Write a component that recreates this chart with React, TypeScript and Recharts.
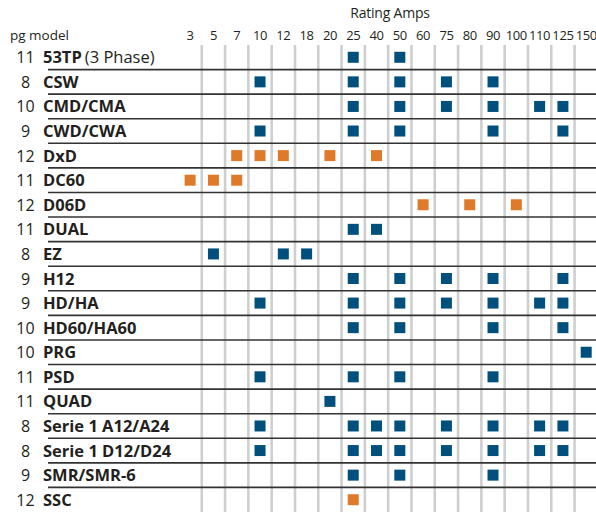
import React from 'react';
import { ScatterChart, Scatter, XAxis, YAxis, ReferenceLine } from 'recharts';

const ampColumns = ['3', '5', '7', '10', '12', '18', '20', '25', '40', '50', '60', '75', '80', '90', '100', '110', '125', '150'];
const models = ['53TP', 'CSW', 'CMD/CMA', 'CWD/CWA', 'DxD', 'DC60', 'D06D', 'DUAL', 'EZ', 'H12', 'HD/HA', 'HD60/HA60', 'PRG', 'PSD', 'QUAD', 'Serie 1 A12/A24', 'Serie 1 D12/D24', 'SMR/SMR-6', 'SSC'];
const modelNotes = ['(3 Phase)', '', '', '', '', '', '', '', '', '', '', '', '', '', '', '', '', '', ''];
const pages = [11, 8, 10, 9, 12, 11, 12, 11, 8, 9, 9, 10, 10, 11, 11, 8, 8, 9, 12];
const ratings: string[][] = [
  ['25', '50'],
  ['10', '25', '50', '75', '90'],
  ['25', '50', '75', '90', '110', '125'],
  ['10', '25', '50', '90', '125'],
  ['7', '10', '12', '20', '40'],
  ['3', '5', '7'],
  ['60', '80', '100'],
  ['25', '40'],
  ['5', '12', '18'],
  ['25', '50', '75', '90', '125'],
  ['10', '25', '50', '75', '90', '110', '125'],
  ['25', '50', '90', '125'],
  ['150'],
  ['10', '25', '50', '90'],
  ['20'],
  ['10', '25', '40', '50', '75', '90', '110', '125'],
  ['10', '25', '40', '50', '75', '90', '110', '125'],
  ['25', '50', '90'],
  ['25'],
];
const orangeModels = ['DxD', 'DC60', 'D06D', 'SSC'];

const BLUE = '#004f7d';
const ORANGE = '#e07a2b';
const INK = '#231f20';
const FONT = '"Open Sans", "Noto Sans", sans-serif';

const points = models.flatMap((m, row) =>
  ratings[row].map((a) => ({ x: ampColumns.indexOf(a), y: row, model: m }))
);
const bluePoints = points.filter((p) => !orangeModels.includes(p.model));
const orangePoints = points.filter((p) => orangeModels.includes(p.model));

const colTicks = ampColumns.map((_, i) => i);
const rowTicks = models.map((_, i) => i);
const colBounds = ampColumns.slice(1).map((_, i) => i + 0.5);
const rowBounds = models.slice(1).map((_, i) => i + 0.5);

const Square = (color: string) => (props: any) => {
  const { cx, cy } = props;
  return <rect x={cx - 5.5} y={cy - 5.5} width={11} height={11} fill={color} />;
};

const AmpTick = (props: any) => {
  const { x, payload } = props;
  return (
    <text x={x} y={39.5} textAnchor="middle" fontFamily={FONT} fontSize={13} letterSpacing={-0.4} fill={INK}>
      {ampColumns[payload.value]}
    </text>
  );
};

const RowTick = (props: any) => {
  const { y, payload } = props;
  const i = payload.value;
  return (
    <g>
      <text x={25.5} y={y + 6} textAnchor="middle" fontFamily={FONT} fontSize={16} fill={INK}>
        {pages[i]}
      </text>
      <text x={43} y={y + 6} fontFamily={FONT} fontSize={16.5} fontWeight="bold" fill={INK}>
        {models[i]}
        {modelNotes[i] ? <tspan fontWeight="normal" dx={3}>{modelNotes[i]}</tspan> : null}
      </text>
    </g>
  );
};

export default function App() {
  return (
    <div style={{ position: 'absolute', left: 0, top: 0, width: 596, height: 512, background: '#fff' }}>
      <ScatterChart width={596} height={512} margin={{ top: 0, right: 0, bottom: 0, left: 0 }}>
        <XAxis
          type="number"
          dataKey="x"
          orientation="top"
          domain={[-6.1, 17.42]}
          allowDataOverflow
          ticks={colTicks}
          interval={0}
          height={45}
          axisLine={false}
          tickLine={false}
          tick={<AmpTick />}
        />
        <YAxis
          type="number"
          dataKey="y"
          domain={[-0.5, 18.5]}
          reversed
          allowDataOverflow
          ticks={rowTicks}
          interval={0}
          width={48}
          axisLine={false}
          tickLine={false}
          tick={<RowTick />}
        />
        {colBounds.map((b) => (
          <ReferenceLine key={'v' + b} x={b} stroke="#cfcfcf" strokeWidth={2.6} />
        ))}
        {rowBounds.map((b) => (
          <ReferenceLine key={'h' + b} y={b} stroke="#333" strokeWidth={1.6} />
        ))}
        <Scatter data={bluePoints} fill={BLUE} shape={Square(BLUE)} isAnimationActive={false} />
        <Scatter data={orangePoints} fill={ORANGE} shape={Square(ORANGE)} isAnimationActive={false} />
        <text x={390} y={18} textAnchor="middle" fontFamily={FONT} fontSize={14} letterSpacing={-0.2} fill={INK}>Rating Amps</text>
        <text x={10} y={39.5} fontFamily={FONT} fontSize={13.5} fill={INK}>pg model</text>
      </ScatterChart>
    </div>
  );
}
